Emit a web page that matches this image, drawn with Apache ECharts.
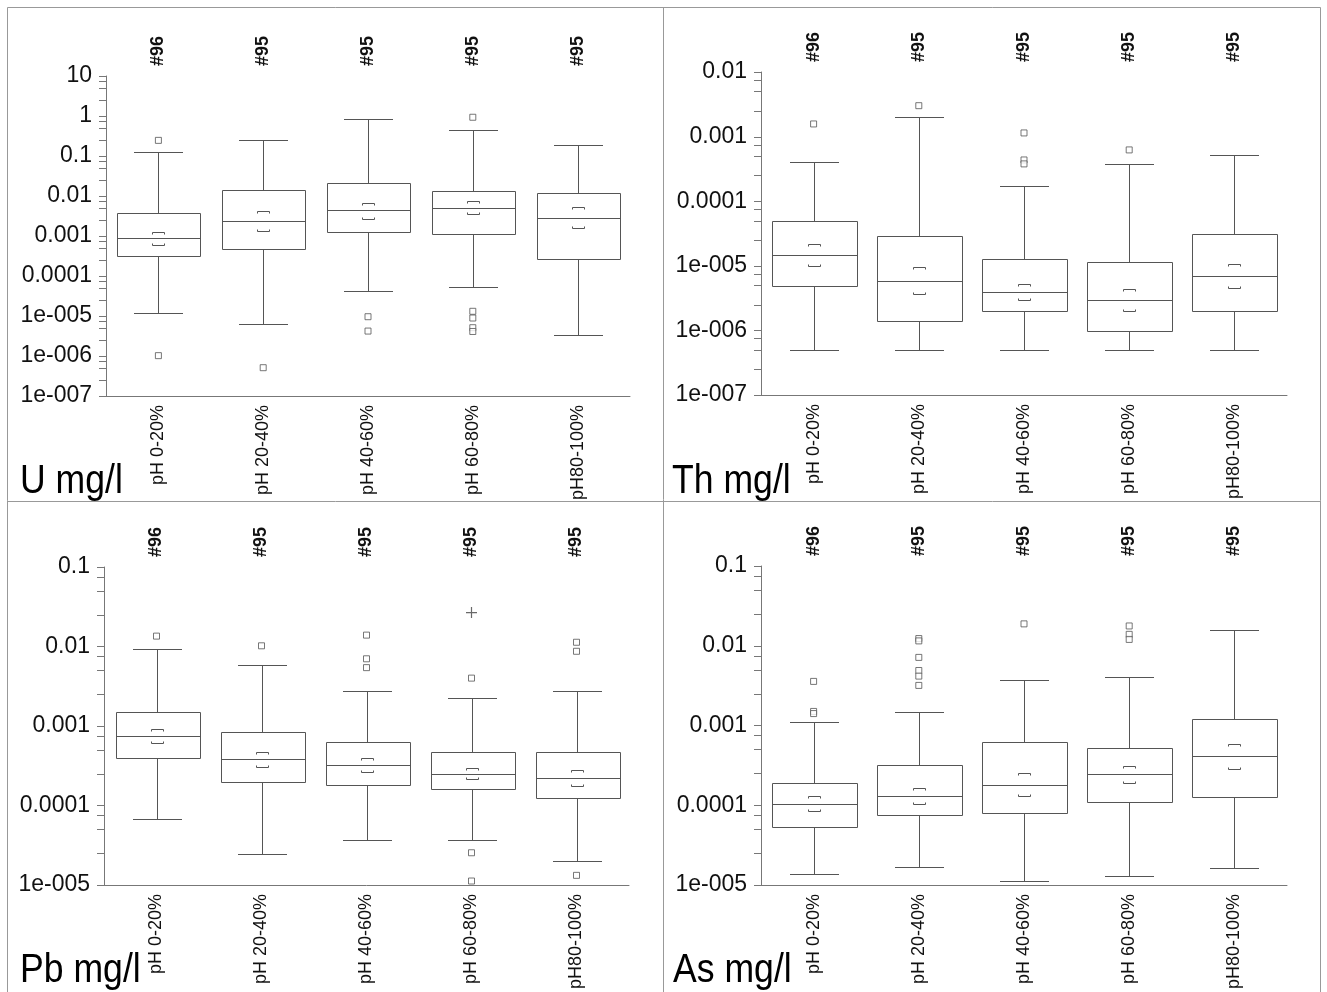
<!DOCTYPE html>
<html><head><meta charset="utf-8">
<script src="https://cdn.jsdelivr.net/npm/echarts@6/dist/echarts.min.js"></script>
<style>html,body{margin:0;padding:0;background:#fff}#c{width:1327px;height:992px}</style>
</head><body><div id="c"></div>
<script>
// ---- categories & tick labels ----
const categories = ['pH 0-20%', 'pH 20-40%', 'pH 40-60%', 'pH 60-80%', 'pH80-100%'];
const counts = ['#96', '#95', '#95', '#95', '#95'];
const tickExps = [1, 0, -1, -2, -3, -4, -5, -6, -7];
const tickLabels = ['10', '1', '0.1', '0.01', '0.001', '0.0001', '1e-005', '1e-006', '1e-007'];
const minorSteps = [1, 2.5, 5, 7.5];

// ---- U mg/l : [low whisker, Q1, median, Q3, high whisker] ----
const U_box = [
  [1.17e-5, 0.00031, 0.000874, 0.00376, 0.126],
  [6.4e-6, 0.000473, 0.00242, 0.0141, 0.246],
  [4.2e-5, 0.00124, 0.00438, 0.0215, 0.84],
  [5.3e-5, 0.0011, 0.0051, 0.0133, 0.455],
  [3.3e-6, 0.000261, 0.00287, 0.0117, 0.192]
];
const U_ci = [[0.00126, 0.000585], [0.00414, 0.00136], [0.0068, 0.00271], [0.0076, 0.00348], [0.0053, 0.00156]];
const U_out = [[0, 0.246], [0, 1.02e-6], [1, 5.1e-7], [2, 9.6e-6], [2, 4.2e-6], [3, 0.93], [3, 1.31e-5], [3, 8.9e-6], [3, 5.1e-6], [3, 4.1e-6]];
const U_far = [];

// ---- Th mg/l ----
const Th_box = [
  [4.9e-7, 4.9e-6, 1.48e-5, 4.86e-5, 0.000401],
  [4.9e-7, 1.39e-6, 5.86e-6, 2.85e-5, 0.00199],
  [4.9e-7, 1.97e-6, 3.96e-6, 1.28e-5, 0.000169],
  [4.95e-7, 9.9e-7, 2.94e-6, 1.13e-5, 0.000373],
  [4.95e-7, 1.99e-6, 7.0e-6, 3.16e-5, 0.000514]
];
const Th_ci = [[2.14e-5, 1.01e-5], [9.5e-6, 3.65e-6], [5.27e-6, 2.94e-6], [4.4e-6, 2.01e-6], [1.07e-5, 4.46e-6]];
const Th_out = [[0, 0.00157], [1, 0.00301], [2, 0.00114], [2, 0.000435], [2, 0.000378], [3, 0.000622]];
const Th_far = [];

// ---- Pb mg/l ----
const Pb_box = [
  [6.68e-5, 0.000398, 0.000745, 0.00152, 0.00923],
  [2.42e-5, 0.000199, 0.000379, 0.000843, 0.00585],
  [3.71e-5, 0.000181, 0.000323, 0.000634, 0.00276],
  [3.64e-5, 0.000163, 0.000252, 0.000476, 0.00222],
  [2.02e-5, 0.000123, 0.000223, 0.000472, 0.00276]
];
const Pb_ci = [[0.000927, 0.000604], [0.000476, 0.000302], [0.000391, 0.000262], [0.000296, 0.000215], [0.000277, 0.000177]];
const Pb_out = [[0, 0.0135], [1, 0.0102], [2, 0.0139], [2, 0.007], [2, 0.00542], [3, 0.004], [3, 2.54e-5], [3, 1.12e-5], [4, 0.0113], [4, 0.0087], [4, 1.32e-5]];
const Pb_far = [[3, 0.0267]];

// ---- As mg/l ----
const As_box = [
  [1.39e-5, 5.37e-5, 0.000104, 0.000188, 0.00109],
  [1.7e-5, 7.62e-5, 0.000131, 0.00032, 0.00149],
  [1.11e-5, 8.07e-5, 0.000181, 0.000622, 0.00371],
  [1.3e-5, 0.00011, 0.000243, 0.000525, 0.00404],
  [1.61e-5, 0.000127, 0.000418, 0.00121, 0.0158]
];
const As_ci = [[0.000129, 8.55e-5], [0.000164, 0.000103], [0.00025, 0.000131], [0.000308, 0.000188], [0.000593, 0.000288]];
const As_out = [[0, 0.00357], [0, 0.0015], [0, 0.00141], [1, 0.0123], [1, 0.0115], [1, 0.00714], [1, 0.00489], [1, 0.00416], [1, 0.00318], [2, 0.0188], [3, 0.0177], [3, 0.0139], [3, 0.012]];
const As_far = [];

const panels = [
  {title: 'U mg/l', box: U_box, ci: U_ci, out: U_out, far: U_far, minE: -7, maxE: 1,
   grid: {left: 106, top: 76, width: 524, height: 320}, tx: 20, ty: 462},
  {title: 'Th mg/l', box: Th_box, ci: Th_ci, out: Th_out, far: Th_far, minE: -7, maxE: -2,
   grid: {left: 761, top: 72, width: 526, height: 323}, tx: 672, ty: 462},
  {title: 'Pb mg/l', box: Pb_box, ci: Pb_ci, out: Pb_out, far: Pb_far, minE: -5, maxE: -1,
   grid: {left: 104, top: 567, width: 525, height: 323}, tx: 20, ty: 951},
  {title: 'As mg/l', box: As_box, ci: As_ci, out: As_out, far: As_far, minE: -5, maxE: -1,
   grid: {left: 761, top: 566, width: 526, height: 323}, tx: 673, ty: 951}
];

const LINE = '#555555';
const AXIS = '#777777';
const SANS = '"Liberation Sans", Arial, sans-serif';

function crisp(v) { return Math.round(v) + 0.5; }

function boxRender(params, api) {
  const x = api.value(0);
  const lo = api.coord([x, api.value(1)]);
  const q1 = api.coord([x, api.value(2)]);
  const md = api.coord([x, api.value(3)]);
  const q3 = api.coord([x, api.value(4)]);
  const hi = api.coord([x, api.value(5)]);
  const ch = api.coord([x, api.value(6)]);
  const cl = api.coord([x, api.value(7)]);
  const band = api.size([1, 0])[0];
  const bw = band * 0.8, cw = band * 0.46;
  const cx = crisp(lo[0]);
  const yl = crisp(lo[1]), y1 = crisp(q1[1]), ym = crisp(md[1]), y3 = crisp(q3[1]), yh = crisp(hi[1]);
  const yc1 = crisp(ch[1]), yc2 = crisp(cl[1]);
  const st = {stroke: LINE, lineWidth: 1, fill: null};
  const bl = Math.round(cx - bw / 2) + 0.5, br = Math.round(cx + bw / 2) + 0.5;
  return {type: 'group', children: [
    {type: 'line', shape: {x1: cx, y1: yh, x2: cx, y2: y3}, style: st},
    {type: 'line', shape: {x1: cx, y1: y1, x2: cx, y2: yl}, style: st},
    {type: 'line', shape: {x1: Math.round(cx - cw / 2), y1: yh, x2: Math.round(cx + cw / 2), y2: yh}, style: st},
    {type: 'line', shape: {x1: Math.round(cx - cw / 2), y1: yl, x2: Math.round(cx + cw / 2), y2: yl}, style: st},
    {type: 'rect', shape: {x: bl, y: y3, width: br - bl, height: y1 - y3}, style: {stroke: LINE, fill: '#fff', lineWidth: 1}},
    {type: 'line', shape: {x1: bl, y1: ym, x2: br, y2: ym}, style: st},
    {type: 'polyline', shape: {points: [[cx - 6, yc1 + 2], [cx - 6, yc1], [cx + 6, yc1], [cx + 6, yc1 + 2]]}, style: st},
    {type: 'polyline', shape: {points: [[cx - 6, yc2 - 2], [cx - 6, yc2], [cx + 6, yc2], [cx + 6, yc2 - 2]]}, style: st}
  ]};
}

function tickRender(params, api) {
  const p = api.coord([0, api.value(1)]);
  const band = api.size([1, 0])[0];
  const x0 = Math.round(p[0] - band / 2);
  const y = crisp(p[1]);
  return {type: 'line', shape: {x1: x0 - 7, y1: y, x2: x0, y2: y}, style: {stroke: AXIS, lineWidth: 1}};
}

const grids = [], xAxes = [], yAxes = [], series = [], graphics = [];

panels.forEach((pn, i) => {
  grids.push(Object.assign({containLabel: false}, pn.grid));
  xAxes.push({
    gridIndex: i, type: 'category', data: categories, position: 'bottom',
    axisLine: {show: true, lineStyle: {color: AXIS, width: 1}},
    axisTick: {show: false},
    axisLabel: {rotate: 90, margin: 9, fontSize: 18, color: '#111', fontFamily: SANS, interval: 0}
  });
  xAxes.push({
    gridIndex: i, type: 'category', data: counts, position: 'top',
    axisLine: {show: false}, axisTick: {show: false},
    axisLabel: {rotate: -90, margin: 10, fontSize: 18, fontWeight: 'bold', color: '#111', fontFamily: SANS, interval: 0}
  });
  yAxes.push({
    gridIndex: i, type: 'log', logBase: 10,
    min: Math.pow(10, pn.minE), max: Math.pow(10, pn.maxE), interval: 1,
    axisLine: {show: true, lineStyle: {color: AXIS, width: 1}},
    axisTick: {show: false}, splitLine: {show: false}, minorTick: {show: false},
    axisLabel: {
      margin: 14, fontSize: 23, color: '#111', fontFamily: SANS,
      formatter: function (v) {
        const e = Math.round(Math.log10(v));
        const k = tickExps.indexOf(e);
        return k >= 0 ? tickLabels[k] : '';
      }
    }
  });
  // ticks (major + minor) built from decades
  const ticks = [];
  for (let e = pn.minE; e <= pn.maxE; e++) {
    minorSteps.forEach(s => {
      const v = s * Math.pow(10, e);
      if (v <= Math.pow(10, pn.maxE) * 1.0000001) ticks.push([0, v]);
    });
  }
  series.push({
    type: 'custom', xAxisIndex: 2 * i, yAxisIndex: i, data: ticks,
    encode: {x: 0, y: 1}, renderItem: tickRender, silent: true, clip: false, z: 1
  });
  const boxData = pn.box.map((b, k) => [k, b[0], b[1], b[2], b[3], b[4], pn.ci[k][0], pn.ci[k][1]]);
  series.push({
    type: 'custom', xAxisIndex: 2 * i, yAxisIndex: i, data: boxData,
    encode: {x: 0, y: [1, 2, 3, 4, 5, 6, 7]}, renderItem: boxRender, silent: true, clip: false, z: 2
  });
  series.push({
    type: 'scatter', xAxisIndex: 2 * i, yAxisIndex: i, data: pn.out,
    symbol: 'rect', symbolSize: 6, silent: true, z: 3,
    itemStyle: {color: '#fff', borderColor: '#555', borderWidth: 1}
  });
  if (pn.far.length) {
    series.push({
      type: 'scatter', xAxisIndex: 2 * i, yAxisIndex: i, data: pn.far,
      symbol: 'path://M0,5H10M5,0V10', symbolSize: 11, silent: true, z: 3,
      itemStyle: {color: 'none', borderColor: '#444', borderWidth: 1.2}
    });
  }
  graphics.push({
    type: 'text', x: pn.tx, y: pn.ty, scaleX: 0.89, scaleY: 1, silent: true,
    style: {text: pn.title, fontSize: 40, fill: '#000', fontFamily: SANS, verticalAlign: 'top', align: 'left'}
  });
});

// panel frame
graphics.push({type: 'rect', shape: {x: 7.5, y: 7.5, width: 1313, height: 1000}, style: {fill: null, stroke: '#999', lineWidth: 1}, silent: true, z: -1});
graphics.push({type: 'line', shape: {x1: 663.5, y1: 7, x2: 663.5, y2: 992}, style: {stroke: '#999', lineWidth: 1}, silent: true});
graphics.push({type: 'line', shape: {x1: 7, y1: 501.5, x2: 1321, y2: 501.5}, style: {stroke: '#999', lineWidth: 1}, silent: true});

const chart = echarts.init(document.getElementById('c'), null, {renderer: 'canvas'});
chart.setOption({
  animation: false,
  backgroundColor: '#fff',
  grid: grids, xAxis: xAxes, yAxis: yAxes, series: series, graphic: graphics
});
</script>
</body></html>
